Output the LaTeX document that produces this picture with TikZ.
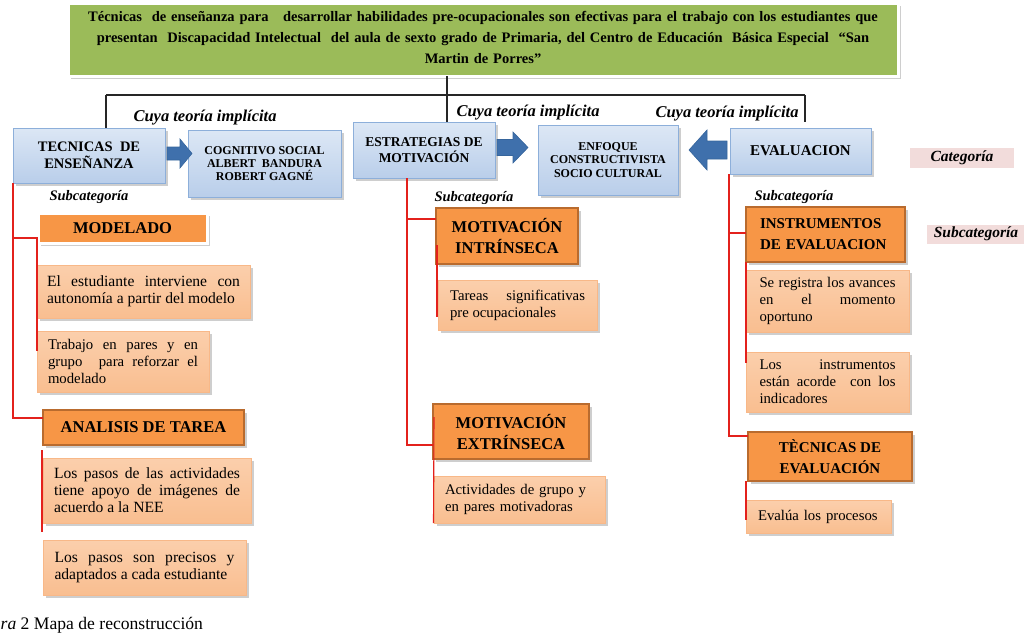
\documentclass[tikz,border=0pt]{standalone}
\usepackage{fontspec}
\setmainfont{Liberation Serif}
\usetikzlibrary{shadows,calc}

\definecolor{titlegreen}{HTML}{9BBB59}
\definecolor{catTop}{HTML}{DCE7F5}
\definecolor{catBot}{HTML}{B9CEEA}
\definecolor{catLine}{HTML}{8DAFDA}
\definecolor{arrowEdge}{HTML}{3F70AC}
\definecolor{arrowMid}{HTML}{5D90CF}
\definecolor{arrowLine}{HTML}{36659C}
\definecolor{headFill}{HTML}{F79646}
\definecolor{headLine}{HTML}{B96B2E}
\definecolor{leafTop}{HTML}{FBCFAC}
\definecolor{leafMid}{HTML}{FDE7D6}
\definecolor{leafBot}{HTML}{F9BE90}
\definecolor{leafLine}{HTML}{F8B888}
\definecolor{tagPink}{HTML}{F2DCDB}
\definecolor{linkRed}{HTML}{E3211C}

\hbadness=10000
\vbadness=10000
\hfuzz=4pt
\hyphenpenalty=10000
\tolerance=10000

% block arrow: tail x, tip x, centre y, head base x, head half-width, shaft half-width
\newcommand\BlkArrow[6]{%
  \path[blockarrow] (#1,#3-#6) -- (#4,#3-#6) -- (#4,#3-#5) -- (#2,#3)
    -- (#4,#3+#5) -- (#4,#3+#6) -- (#1,#3+#6) -- cycle;}

\tikzset{
  every node/.style={inner sep=0pt, outer sep=0pt},
  softshadow/.style={drop shadow={shadow xshift=2.5pt, shadow yshift=-2.5pt,
      opacity=0.35, fill=black!55}},
  titlebox/.style={softshadow, fill=titlegreen, draw=white, line width=3pt},
  titletext/.style={align=center, text width=815pt,
      font=\fontsize{14.5}{21}\selectfont\bfseries},
  catbox/.style={softshadow, top color=catTop, bottom color=catBot,
      draw=catLine, line width=0.8pt, align=center},
  headbox/.style={softshadow, fill=headFill, draw=headLine, line width=1.5pt,
      align=center, font=\fontsize{16.5}{21}\selectfont\bfseries},
  leafbox/.style={softshadow, top color=leafTop, middle color=leafMid,
      bottom color=leafBot, draw=leafLine, line width=0.7pt,
      align=justify, font=\fontsize{14.75}{17}\selectfont},
  bigleaf/.style={font=\fontsize{15.6}{17}\selectfont},
  blockarrow/.style={top color=arrowEdge, middle color=arrowMid,
      bottom color=arrowEdge, draw=arrowLine, line width=0.6pt},
  theory/.style={font=\fontsize{16.5}{18}\selectfont\bfseries\itshape},
  sublabel/.style={font=\fontsize{14.5}{16}\selectfont\bfseries\itshape},
  tag/.style={fill=tagPink, font=\fontsize{15.5}{17}\selectfont\bfseries\itshape},
  blk/.style={draw=black!85, line width=1.1pt},
  rl/.style={draw=linkRed, line width=1.1pt},
}

\begin{document}
\begin{tikzpicture}[x=1pt, y=-1pt]
\useasboundingbox (0,0) rectangle (1024,635);

% ---- research statement ----
\node[titlebox, minimum width=830pt, minimum height=73pt] (title) at (483,39.5) {};
\node[titletext] (titletxt) at (483,37)
  {Técnicas\ \ de enseñanza para\ \ \ desarrollar habilidades pre-ocupacionales son efectivas para el trabajo con los estudiantes que\\
   presentan\ \ Discapacidad Intelectual\ \ del aula de sexto grado de Primaria, del Centro de Educación\ \ Básica Especial\ \ “San\\
   Martin de Porres”};

% ---- italic labels ----
\node[theory] (th1) at (205,118) {Cuya teoría implícita};
\node[theory] (th2) at (528,113) {Cuya teoría implícita};
\node[theory] (th3) at (727,114) {Cuya teoría implícita};
\node[sublabel] (sc1) at (89,197) {Subcategoría};
\node[sublabel] (sc2) at (474,198) {Subcategoría};
\node[sublabel] (sc3) at (794,197) {Subcategoría};

% ---- categories ----
\node[catbox, minimum width=152pt, minimum height=55pt,
      font=\fontsize{14.5}{17}\selectfont\bfseries] (tec) at (89,155.5)
  {TECNICAS\ \ DE\\ENSEÑANZA};
\node[catbox, minimum width=153pt, minimum height=67pt,
      font=\fontsize{12}{13}\selectfont\bfseries] (cog) at (264.5,163.5)
  {COGNITIVO SOCIAL\\ALBERT\ \ BANDURA\\ROBERT GAGNÉ};
\node[catbox, minimum width=142pt, minimum height=56pt,
      font=\fontsize{13.5}{15.5}\selectfont\bfseries] (est) at (424,150)
  {ESTRATEGIAS DE\\MOTIVACIÓN};
\node[catbox, minimum width=140pt, minimum height=70pt,
      font=\fontsize{12}{13.5}\selectfont\bfseries] (enf) at (608,160)
  {ENFOQUE\\CONSTRUCTIVISTA\\SOCIO CULTURAL};
\node[catbox, minimum width=141pt, minimum height=46pt,
      font=\fontsize{15}{17}\selectfont\bfseries] (eva) at (800.5,151)
  {EVALUACION};

% ---- block arrows between categories ----
\BlkArrow{167}{192}{153.5}{180}{14.5}{6.5}
\BlkArrow{497}{528}{147.5}{513}{15.5}{8}
\BlkArrow{727}{689}{150}{707}{20}{9}

% ---- legend tags ----
\node[tag, minimum width=104pt, minimum height=20pt] (legcat) at (962,158) {Categoría};
\node[tag, minimum width=98pt, minimum height=19pt] (legsub) at (976,234) {Subcategoría};

% ---- left column ----
\node[headbox, draw=white, line width=3pt, minimum width=169pt, minimum height=30pt]
  (mod) at (122.5,228) {MODELADO};
\node[leafbox, bigleaf, minimum width=213pt, minimum height=53pt, text width=193pt] (l1) at (143.5,291.5)
  {El estudiante interviene con\linebreak autonomía a partir del modelo};
\node[leafbox, minimum width=172pt, minimum height=61pt, text width=150pt] (l2) at (123,361.5)
  {Trabajo en pares y en\linebreak grupo\ \ para reforzar el\linebreak modelado};
\node[headbox, minimum width=201pt, minimum height=35pt] (ana) at (143.5,427.5)
  {ANALISIS DE TAREA};
\node[leafbox, bigleaf, minimum width=208pt, minimum height=65pt, text width=186pt] (l3) at (147,490.5)
  {Los pasos de las actividades\linebreak tiene apoyo de imágenes de\linebreak acuerdo a la NEE};
\node[leafbox, bigleaf, minimum width=203pt, minimum height=55pt, text width=180pt] (l4) at (144.5,567.5)
  {Los pasos son precisos y\linebreak adaptados a cada estudiante};

% ---- middle column ----
\node[headbox, minimum width=142pt, minimum height=56pt] (mi) at (507,236)
  {MOTIVACIÓN\\INTRÍNSECA};
\node[leafbox, minimum width=159pt, minimum height=50pt, text width=135pt] (l5) at (517.5,305)
  {Tareas significativas\linebreak pre ocupacionales};
\node[headbox, minimum width=156pt, minimum height=55pt] (me) at (511,431.5)
  {MOTIVACIÓN\\EXTRÍNSECA};
\node[leafbox, align=left, minimum width=171pt, minimum height=47pt, text width=150pt] (l6) at (520,499.5)
  {Actividades de grupo y\\en pares motivadoras};

% ---- right column ----
\node[headbox, align=left, font=\fontsize{15}{21}\selectfont\bfseries,
      minimum width=159pt, minimum height=55pt, text width=131pt] (ins) at (825.5,234.5)
  {INSTRUMENTOS\\DE EVALUACION};
\node[leafbox, minimum width=163pt, minimum height=62pt, text width=136pt] (l7) at (827.5,301)
  {Se registra los avances\linebreak en el momento\linebreak oportuno};
\node[leafbox, minimum width=163pt, minimum height=60pt, text width=136pt] (l8) at (827.5,382)
  {Los instrumentos\linebreak están acorde\ \ con los\linebreak indicadores};
\node[headbox, font=\fontsize{15}{21}\selectfont\bfseries,
      minimum width=164pt, minimum height=49pt] (tev) at (830,456.5)
  {TÈCNICAS DE\\EVALUACIÓN};
\node[leafbox, align=left, minimum width=145pt, minimum height=33pt, text width=121pt] (l9) at (818.5,516.5)
  {Evalúa los procesos};

% ---- caption ----
\node[anchor=base east, font=\fontsize{17.6}{19}\selectfont] (cap) at (203,629)
  {\textit{ra} 2 Mapa de reconstrucción};

% ---- black tree from the statement ----
\coordinate (hub) at (447,95);
\coordinate (hl) at (106,95);
\coordinate (hr) at (805,95);
\draw[blk] (title.south -| hub) -- (hub);
\draw[blk] (hl) -- (hr);
\draw[blk] (hl) -- (hl |- tec.north);
\draw[blk] (hub) -- (hub |- est.north);
\draw[blk] (hr) -- ($(hr |- eva.north)+(0,-6)$);

% ---- red links to subcategories ----
\coordinate (jL1) at (13,238);
\coordinate (jL2) at (13,418);
\draw[rl] (tec.south west) -- (jL2) -- (jL2 -| ana.west);
\draw[rl] (jL1) -- (jL1 -| mod.west);
\draw[rl] (jL1 -| l2.west) -- ($(l2.west)+(0,-11)$);
\draw[rl] ($(ana.south west)+(-1,5)$) -- ($(l3.south west)+(-1,9)$);

\coordinate (jM1) at (407,219);
\coordinate (jM2) at (407,445);
\draw[rl] (est.south -| jM1) -- (jM2) -- (jM2 -| me.west);
\draw[rl] (jM1) -- (jM1 -| mi.west);
\draw[rl] ($(mi.west)+(1,9)$) -- ($(l5.west)+(-1,12)$);
\draw[rl] ($(me.west)+(1,-14.5)$) -- ($(l6.south west)+(-1,0)$);

\coordinate (jR1) at (729,233);
\coordinate (jR2) at (729,436);
\draw[rl] (eva.south -| jR1) -- (jR2) -- (jR2 -| tev.west);
\draw[rl] (jR1) -- (jR1 -| ins.west);
\draw[rl] (ins.south west) -- ($(l8.west)+(0,-19)$);
\draw[rl] ($(tev.south west)+(-2,0)$) -- ($(l9.south west)+(0,-13)$);
\end{tikzpicture}
\end{document}
